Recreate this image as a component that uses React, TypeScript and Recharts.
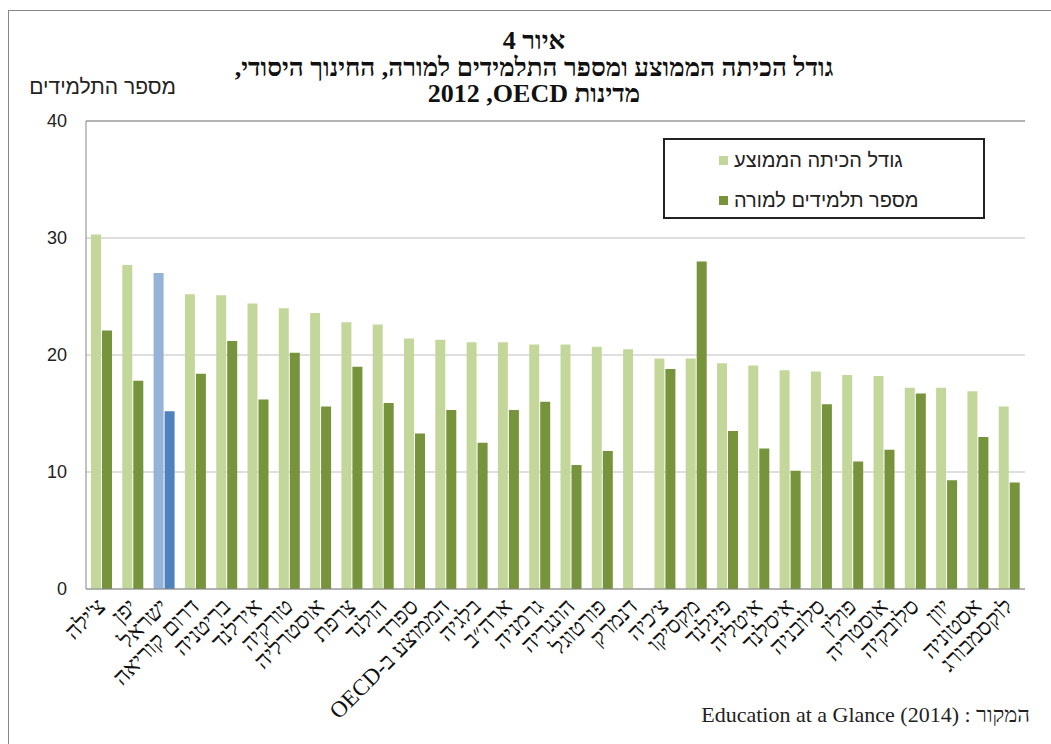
import React from "react";
import { Bar, BarChart, CartesianGrid, Cell, ReferenceLine, XAxis, YAxis } from "recharts";

// countries, left to right as in the figure
const countries = [
  "צ'ילה", "יפן", "ישראל", "דרום קוריאה", "בריטניה", "אירלנד", "טורקיה", "אוסטרליה",
  "צרפת", "הולנד", "ספרד", "הממוצע ב-OECD", "בלגיה", "ארה״ב", "גרמניה", "הונגריה",
  "פורטוגל", "דנמרק", "צ׳כיה", "מקסיקו", "פינלנד", "איטליה", "איסלנד", "סלובניה",
  "פולין", "אוסטריה", "סלובקיה", "יוון", "אסטוניה", "לוקסמבורג"
];

// average class size
const classSize = [
  30.3, 27.7, 27.0, 25.2, 25.1, 24.4, 24.0, 23.6, 22.8, 22.6, 21.4, 21.3, 21.1, 21.1, 20.9,
  20.9, 20.7, 20.5, 19.7, 19.7, 19.3, 19.1, 18.7, 18.6, 18.3, 18.2, 17.2, 17.2, 16.9, 15.6
];

// students per teacher (no value for Denmark)
const studentsPerTeacher = [
  22.1, 17.8, 15.2, 18.4, 21.2, 16.2, 20.2, 15.6, 19.0, 15.9, 13.3, 15.3, 12.5, 15.3, 16.0,
  10.6, 11.8, null, 18.8, 28.0, 13.5, 12.0, 10.1, 15.8, 10.9, 11.9, 16.7, 9.3, 13.0, 9.1
];

const yTicks = [0, 10, 20, 30, 40];

const seriesNames = ["גודל הכיתה הממוצע", "מספר תלמידים למורה"];
const lightGreen = "#c4d79b";
const darkGreen = "#77933c";
const israelLight = "#95b3d7";
const israelDark = "#4f81bd";
const highlight = "ישראל";

const data = countries.map((name, i) => ({
  name,
  avg: classSize[i],
  ratio: studentsPerTeacher[i]
}));

const frameGray = "#868686";
const serif = '"Liberation Serif", "Tinos", "DejaVu Serif", serif';
const sans = '"Liberation Sans", Arial, "DejaVu Sans", sans-serif';

function CountryTick(props: any) {
  const { x, y, payload } = props;
  return (
    <g transform={`translate(${x + 5},${y + 19})`}>
      <text x={0} y={0} textAnchor="end" transform="rotate(-45)" fontFamily={serif} fontSize={23} fill="#111">
        {"\u202B" + payload.value + "\u202C"}
      </text>
    </g>
  );
}

export default function App() {
  return (
    <div style={{ position: "absolute", left: 0, top: 0, width: 1051, height: 744, background: "#fff", overflow: "hidden" }}>
      {/* outer frame, only top and left edges show */}
      <div
        style={{
          position: "absolute",
          left: 8,
          top: 10,
          width: 1100,
          height: 800,
          borderLeft: `1px solid ${frameGray}`,
          borderTop: `1px solid ${frameGray}`
        }}
      />

      <div
        dir="rtl"
        style={{
          position: "absolute",
          left: 134,
          top: 28,
          width: 800,
          textAlign: "center",
          fontFamily: serif,
          fontWeight: "bold",
          fontSize: 26,
          lineHeight: "26.5px",
          color: "#111"
        }}
      >
        <div>איור 4</div>
        <div>גודל הכיתה הממוצע ומספר התלמידים למורה, החינוך היסודי,</div>
        <div>{"מדינות OECD\u200F, 2012"}</div>
      </div>

      <div
        dir="rtl"
        style={{
          position: "absolute",
          left: 10,
          top: 75,
          width: 166,
          textAlign: "right",
          fontFamily: sans,
          fontSize: 21,
          color: "#222"
        }}
      >
        מספר התלמידים
      </div>

      <div style={{ position: "absolute", left: 0, top: 0 }}>
        <BarChart
          width={1051}
          height={744}
          data={data}
          margin={{ top: 121, right: 26, bottom: 15, left: 26 }}
          barGap={1}
          barCategoryGap="16%"
        >
          <CartesianGrid vertical={false} stroke="#c0c0c0" strokeWidth={1.2} />
          <XAxis
            dataKey="name"
            interval={0}
            height={140}
            tickLine={false}
            tickSize={0}
            tickMargin={0}
            axisLine={{ stroke: frameGray }}
            tick={<CountryTick />}
          />
          <YAxis
            domain={[0, 40]}
            ticks={yTicks}
            width={60}
            tickLine={false}
            tickSize={0}
            tickMargin={19}
            axisLine={{ stroke: frameGray }}
            tick={{ fontFamily: sans, fontSize: 18, fill: "#222" }}
          />
          <YAxis yAxisId="right" orientation="right" domain={[0, 40]} width={0} tick={false} tickLine={false} axisLine={{ stroke: frameGray }} />
          <ReferenceLine y={40} stroke={frameGray} />
          <Bar dataKey="avg" name={seriesNames[0]} fill={lightGreen} barSize={10} isAnimationActive={false}>
            {data.map((d) => (
              <Cell key={d.name} fill={d.name === highlight ? israelLight : lightGreen} />
            ))}
          </Bar>
          <Bar dataKey="ratio" name={seriesNames[1]} fill={darkGreen} barSize={10} isAnimationActive={false}>
            {data.map((d) => (
              <Cell key={d.name} fill={d.name === highlight ? israelDark : darkGreen} />
            ))}
          </Bar>
        </BarChart>
      </div>

      {/* legend */}
      <div
        style={{
          position: "absolute",
          left: 663,
          top: 138,
          width: 318,
          height: 77,
          border: "2px solid #222",
          fontFamily: sans,
          fontSize: 20,
          color: "#222"
        }}
      >
        {seriesNames.map((s, i) => (
          <div
            key={s}
            style={{ position: "absolute", left: 54, top: 8 + i * 40, height: 24, display: "flex", alignItems: "center" }}
          >
            <span style={{ display: "inline-block", width: 9, height: 9, background: i === 0 ? lightGreen : darkGreen, marginRight: 6 }} />
            <span dir="rtl">{s}</span>
          </div>
        ))}
      </div>

      <div
        style={{
          position: "absolute",
          right: 21,
          top: 702,
          fontFamily: serif,
          fontSize: 22,
          color: "#222",
          whiteSpace: "nowrap"
        }}
      >
        {"Education at a Glance (2014) : המקור"}
      </div>
    </div>
  );
}
